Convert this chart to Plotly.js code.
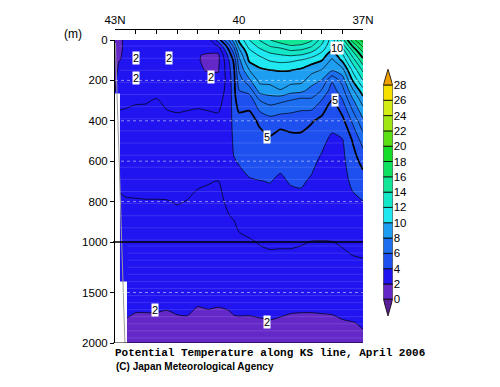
<!DOCTYPE html>
<html><head><meta charset="utf-8">
<script src="https://cdn.plot.ly/plotly-3.0.1.min.js"></script>
<style>html,body{margin:0;padding:0;background:#fff}#chart{width:500px;height:387px}</style>
</head><body><div id="chart"></div>
<script>
// Station latitudes (deg N) along the KS line, north to south
const lats = [43.0,42.9,42.75,42.5,42.25,42.0,41.75,41.5,41.25,41.0,40.75,40.5,40.25,40.125,40.0,39.75,39.5,39.25,39.0,38.75,38.5,38.25,38.0,37.75,37.5,37.25,37.0];
// Depth levels (m)
const depths = [0,25,50,75,100,150,200,250,300,400,500,600,700,800,900,1000,1200,1400,1600,1800,2000];
// Potential temperature profiles (deg C), one per latitude, values at each depth level
const profiles = [
 [1.5,1.5,1.55,1.6,1.65,1.7,1.8,1.95,2.3,2.9,3.0,3.0,2.95,2.9,2.85,2.8,2.7,2.5,2.2,1.95,1.85],
 [1.85,1.85,1.9,1.95,1.98,2.2,2.45,2.7,2.9,3.1,3.15,3.15,3.05,2.95,2.85,2.8,2.7,2.5,2.2,1.95,1.85],
 [2.15,2.12,2.1,2.08,2.08,2.15,2.4,2.7,2.9,3.15,3.25,3.25,3.1,2.97,2.85,2.8,2.7,2.5,2.2,1.95,1.85],
 [2.2,2.18,2.15,2.12,2.12,2.2,2.45,2.75,2.95,3.2,3.3,3.3,3.1,2.98,2.85,2.8,2.7,2.5,2.1,1.9,1.85],
 [2.3,2.25,2.2,2.15,2.15,2.3,2.5,2.75,2.95,3.25,3.35,3.35,3.15,2.98,2.85,2.8,2.7,2.5,2.1,1.9,1.82],
 [2.2,2.2,2.2,2.2,2.2,2.35,2.55,2.8,3.05,3.3,3.4,3.35,3.15,2.98,2.85,2.8,2.7,2.5,2.1,1.9,1.82],
 [2.15,2.12,2.1,2.1,2.12,2.3,2.55,2.75,2.88,3.15,3.35,3.3,3.2,2.98,2.85,2.78,2.7,2.5,2.06,1.9,1.82],
 [2.1,2.08,2.05,2.05,2.05,2.1,2.3,2.55,2.85,3.1,3.3,3.3,3.15,3.02,2.9,2.8,2.7,2.5,2.12,1.92,1.85],
 [2.2,2.18,2.15,2.12,2.12,2.2,2.4,2.6,2.88,3.12,3.3,3.3,3.1,2.99,2.85,2.8,2.72,2.5,2.15,1.92,1.82],
 [2.3,2.25,2.15,2.05,2.05,2.1,2.4,2.65,2.9,3.15,3.3,3.25,3.05,2.92,2.85,2.8,2.72,2.5,2.03,1.88,1.8],
 [2.5,2.4,2.2,1.9,1.85,1.95,2.3,2.6,2.85,3.15,3.3,3.25,3.02,2.9,2.8,2.75,2.7,2.5,2.05,1.9,1.8],
 [4.5,3.2,2.3,1.85,1.8,1.95,2.2,2.6,2.85,3.1,3.3,3.2,2.99,2.9,2.82,2.78,2.7,2.5,2.03,1.9,1.82],
 [7.0,5.8,4.95,4.3,3.9,3.6,3.4,3.3,3.25,3.4,3.55,3.5,3.3,3.08,2.95,2.9,2.8,2.58,2.05,1.92,1.82],
 [8.5,7.5,6.5,5.8,5.2,4.8,4.7,4.7,4.65,4.4,4.15,3.95,3.55,3.25,2.98,2.9,2.8,2.6,2.1,1.94,1.82],
 [10.2,9.6,8.8,8.2,7.7,7.1,6.5,5.98,5.5,4.65,4.35,4.05,3.8,3.5,3.1,2.9,2.8,2.6,2.1,1.95,1.82],
 [12.0,11.5,10.9,10.5,10.2,8.98,7.8,6.4,5.3,4.7,4.45,4.2,3.95,3.75,3.2,2.95,2.85,2.6,2.15,1.92,1.82],
 [13.05,12.4,11.8,11.1,10.6,9.8,9.3,8.4,6.98,5.15,4.7,4.35,3.98,3.8,3.55,3.03,2.85,2.6,2.25,1.92,1.82],
 [13.98,13.2,12.4,11.7,11.1,9.98,9.3,8.6,7.4,5.6,4.8,4.35,4.02,3.8,3.55,3.07,2.88,2.6,2.3,1.95,1.82],
 [14.6,13.6,12.6,11.95,11.3,10.05,9.5,8.95,7.2,5.4,4.45,4.15,3.9,3.7,3.45,3.06,2.88,2.6,2.2,1.92,1.8],
 [14.9,14.1,13.1,12.1,11.2,10.02,9.4,8.4,6.95,5.4,4.7,4.4,4.05,3.8,3.5,3.06,2.88,2.6,2.12,1.9,1.8],
 [14.8,13.95,12.95,11.95,10.95,9.8,9.3,8.3,6.6,5.4,4.7,4.4,4.1,3.8,3.5,3.03,2.87,2.6,2.1,1.9,1.8],
 [14.2,13.3,12.4,11.4,10.5,9.3,8.5,7.6,6.8,5.1,4.5,4.2,3.9,3.65,3.2,2.99,2.85,2.6,2.1,1.9,1.82],
 [12.5,11.95,11.3,10.6,10.05,8.95,7.95,6.95,5.95,4.7,4.2,3.85,3.65,3.5,3.25,2.98,2.85,2.6,2.12,1.9,1.82],
 [10.4,10.15,9.9,9.3,8.8,8.05,6.1,5.5,4.98,4.3,3.8,3.6,3.5,3.45,3.3,2.99,2.85,2.6,2.15,1.9,1.85],
 [13.5,12.6,11.6,10.8,10.2,8.6,7.4,6.6,5.9,4.7,3.9,3.75,3.65,3.55,3.4,3.04,2.9,2.6,2.25,1.95,1.85],
 [16.5,15.3,14.2,13.3,12.5,11.2,10.05,8.8,7.8,6.2,5.05,4.6,4.2,3.8,3.6,3.2,2.9,2.6,2.35,1.98,1.85],
 [18.5,17.4,16.4,15.5,14.7,13.2,12.05,10.6,9.5,7.8,6.4,5.3,4.6,3.98,3.7,3.4,2.9,2.6,2.4,2.05,1.9]
];
// Shading levels and colours (below 0, 0-2, ..., 26-28, above 28)
const levels = [0,2,4,6,8,10,12,14,16,18,20,22,24,26,28];
const bandColors = ['#5a1e96','#6428c8','#2014f0','#1e50f0','#1e6ef0','#1e9ef0','#20e8f0','#14e6c8','#10e696','#10e060','#14dc28','#5ae014','#a0e614','#d2ec14','#f5e000','#f0a000'];
// Bottom topography mask near 43N (no data)
const maskLat = [43.0,42.88,42.88,42.71,42.71,43.0];
const maskDepth = [265,265,1390,1390,2000,2000];
const bottomLineLat = [42.99,42.76];
const bottomLineDepth = [15,2000];
// Depth axis ticks
const depthTicks = [0,200,400,600,800,1000,1500,2000];
// Latitude axis ticks
const latTicks = [43,42.5,42,41.5,41,40.5,40,39.5,39,38.5,38,37.5,37];
const latTickText = ['43N','','','','','','40','','','','','','37N'];
// Contour labels [lat, depth, text]
const labelLat = [42.49,41.69,42.49,40.68,37.63,37.68,39.32,42.03,39.32];
const labelDepth = [89,89,188,183,40,297,480,1674,1792];
const labelText = ['2','2','2','2','10','5','5','2','2'];

// depth axis: linear 0-1000 m, half scale 1000-2000 m
const dz = d => d <= 1000 ? d : 1000 + (d - 1000) / 2;
const yv = depths.map(dz);
const z = depths.map((_, i) => lats.map((_, j) => profiles[j][i]));

const n = bandColors.length - 1;
const cscale = [];
bandColors.forEach((c, k) => {
  cscale.push([k === 0 ? 0 : (k - 0.5) / n, c]);
  cscale.push([k === n ? 1 : (k + 0.5) / n, c]);
});
const SM = 0.6;
const traces = [
  {type:'contour', x:lats, y:yv, z:z, colorscale:cscale, showscale:false, hoverinfo:'skip',
   contours:{start:0, end:28, size:2, coloring:'fill', showlines:false}, line:{width:0, smoothing:SM}},
  {type:'contour', x:lats, y:yv, z:z, showscale:false, hoverinfo:'skip',
   contours:{start:1, end:28, size:1, coloring:'none'}, line:{color:'#000', width:0.7, smoothing:SM}},
  {type:'contour', x:lats, y:yv, z:z, showscale:false, hoverinfo:'skip',
   contours:{start:5, end:15, size:5, coloring:'none'}, line:{color:'#000', width:1.7, smoothing:SM}},
  {type:'scatter', mode:'lines', x:maskLat, y:maskDepth.map(dz), fill:'toself', fillcolor:'#fff',
   line:{width:0, color:'#fff'}, hoverinfo:'skip'},
  {type:'scatter', mode:'lines', x:bottomLineLat, y:bottomLineDepth.map(dz), line:{width:1, color:'#9a9a9a'}, hoverinfo:'skip'},
  // colour bar
  {type:'bar', xaxis:'x2', yaxis:'y2', x:levels.slice(0,-1).map(() => 0), base:levels.slice(0,-1),
   y:levels.slice(0,-1).map((l,i) => levels[i+1]-l), width:1,
   marker:{color:bandColors.slice(1,-1), line:{color:'#000', width:0.8}}, hoverinfo:'skip'},
  {type:'scatter', xaxis:'x2', yaxis:'y2', mode:'lines', x:[-0.5,0.5,0,-0.5], y:[28,28,30.05,28],
   fill:'toself', fillcolor:bandColors[n], line:{color:'#000', width:0.8}, hoverinfo:'skip'},
  {type:'scatter', xaxis:'x2', yaxis:'y2', mode:'lines', x:[-0.5,0.5,0,-0.5], y:[0,0,-2.18,0],
   fill:'toself', fillcolor:bandColors[0], line:{color:'#000', width:0.8}, hoverinfo:'skip'}
];

const W = 500, H = 387;
const px = v => v / W, py = v => 1 - v / H;
const font = 'Liberation Sans, Arial, sans-serif';
const shapes = [];
// faint horizontal rendering stripes of the original plot
for (let d = 30; d < 1000; d += 60) shapes.push({type:'line', xref:'x', x0:42.88, x1:37, yref:'y', y0:dz(d), y1:dz(d),
  line:{color:'rgba(255,255,255,0.13)', width:1}});
for (let d = 1040; d < 2000; d += 70) shapes.push({type:'line', xref:'x', x0:42.7, x1:37, yref:'y', y0:dz(d), y1:dz(d),
  line:{color:'rgba(255,255,255,0.13)', width:1}});
[200,400,600,800,1500].forEach(d => shapes.push({type:'line', xref:'x', x0:43, x1:37, yref:'y', y0:dz(d), y1:dz(d),
  line:{color:'rgba(255,255,255,0.5)', width:1, dash:'dot'}}));
shapes.push(
  {type:'line', xref:'paper', x0:px(113), x1:px(363), yref:'y', y0:dz(1000), y1:dz(1000), line:{color:'#000', width:1.5}},
  {type:'line', xref:'paper', x0:px(113), x1:px(363), yref:'y', y0:dz(2000), y1:dz(2000), line:{color:'#000', width:1}}
);

const annotations = labelText.map((t, i) => ({x:labelLat[i], y:dz(labelDepth[i]), text:t, showarrow:false,
  bgcolor:'#fff', borderpad:0, font:{family:font, size:11, color:'#000'}}));
annotations.push(
  {xref:'paper', yref:'paper', x:px(113), y:py(353), xanchor:'left', yanchor:'middle', showarrow:false,
   text:'<b>Potential Temperature along KS line, April 2006</b>', font:{family:'Liberation Mono, Courier New, monospace', size:11, color:'#000'}},
  {xref:'paper', yref:'paper', x:px(114), y:py(366), xanchor:'left', yanchor:'middle', showarrow:false,
   text:'<b>(C) Japan Meteorological Agency</b>', font:{family:font, size:10, color:'#000'}},
  {xref:'paper', yref:'paper', x:px(73), y:py(34), xanchor:'center', yanchor:'middle', showarrow:false,
   text:'(m)', font:{family:font, size:12, color:'#000'}}
);

const layout = {
  width:W, height:H, margin:{l:0, r:0, t:0, b:0}, paper_bgcolor:'#fff', plot_bgcolor:'rgba(0,0,0,0)',
  showlegend:false, font:{family:font, size:11.5, color:'#000'},
  xaxis:{domain:[px(115), px(363)], range:[43,37], side:'top', anchor:'free', position:py(29),
    tickvals:latTicks, ticktext:latTickText, ticks:'inside', ticklen:4, tickcolor:'#000',
    showline:true, linecolor:'#000', linewidth:1, showgrid:false, zeroline:false, fixedrange:true},
  yaxis:{domain:[py(343), py(40)], range:[dz(2000), 0], anchor:'x',
    tickvals:depthTicks.map(dz), ticktext:depthTicks.map(String), ticks:'outside', ticklen:4, tickcolor:'#000',
    showline:true, linecolor:'#000', linewidth:1, showgrid:false, zeroline:false, fixedrange:true},
  xaxis2:{domain:[px(383.3), px(392.7)], range:[-0.5,0.5], anchor:'y2', visible:false, fixedrange:true},
  yaxis2:{domain:[py(316.1), py(68.9)], range:[-2.2,30.1], anchor:'x2', side:'right',
    tickvals:levels, ticks:'', showline:false, showgrid:false, zeroline:false, fixedrange:true},
  shapes:shapes, annotations:annotations
};
Plotly.newPlot('chart', traces, layout, {staticPlot:true, displayModeBar:false});
</script></body></html>
